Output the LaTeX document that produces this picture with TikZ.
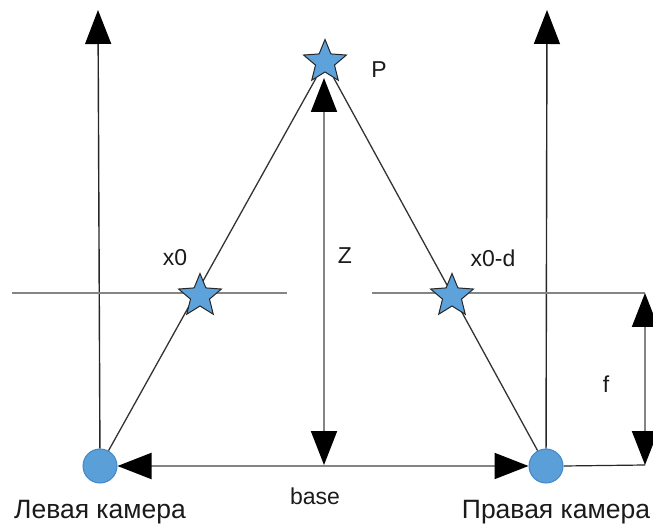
\documentclass[tikz,border=0pt]{standalone}
\usepackage{fontspec}
\setmainfont{Liberation Sans}
\usetikzlibrary{shapes.geometric,arrows.meta,backgrounds}
\definecolor{starblue}{HTML}{5DA2DA}
\definecolor{camblue}{HTML}{5B9FD8}
\definecolor{camedge}{HTML}{4189C8}
\definecolor{planegray}{HTML}{858585}
\definecolor{txt}{HTML}{1A1A1A}
\tikzset{
  pt/.style={star, star points=5, star point ratio=2.25, minimum size=45pt, inner sep=0pt,
             fill=starblue, draw=black!85, line width=1pt},
  cam/.style={circle, minimum size=34pt, inner sep=0pt, fill=camblue, draw=camedge, line width=1pt},
  lbl/.style={font=\fontsize{23}{27}\selectfont, text=txt, inner sep=0pt},
  biglbl/.style={font=\fontsize{26.5}{30}\selectfont, text=txt, inner sep=0pt},
  axisline/.style={draw=black!85, line width=1.4pt},
  plane/.style={draw=planegray, line width=2.2pt},
  ray/.style={draw=black!80, line width=1.3pt},
  tipA/.tip={Triangle[length=34pt,width=26pt,black]},
  meas/.style={draw=planegray, line width=2pt, tipA-tipA},
  upar/.style={axisline, -tipA}
}
\begin{document}
\begin{tikzpicture}[x=1pt,y={(0pt,-1pt)}]
\useasboundingbox (0,0) rectangle (653,526);
% cameras and points
\node[cam] (lcam) at (100,466) {};
\node[cam] (rcam) at (546,466) {};
\node[pt] (P) at (325,62) {};
\node[pt] (xl) at (200,296) {};
\node[pt] (xr) at (452,296) {};
% coordinates
\coordinate (ltop) at (98,10);
\coordinate (rtop) at (547,10);
\coordinate (lp1) at (12,293);
\coordinate (lp2) at (287,293);
\coordinate (rp1) at (372,293);
\coordinate (rp2) at (645,293);
\coordinate (rb) at (645,465);
\coordinate (zt) at (324,78);
\coordinate (zb) at (324,465);
\begin{pgfonlayer}{background}
  \draw[upar] (lcam) -- (ltop);
  \draw[upar] (rcam) -- (rtop);
  \draw[plane] (lp1) -- (lp2);
  \draw[plane] (rp1) -- (rp2);
  \draw[ray] (lcam) -- (P);
  \draw[ray] (rcam) -- (P);
  \draw[axisline, line width=1.2pt] (rcam.east) -- (rb);
\end{pgfonlayer}
\draw[meas] (zt) -- (zb);
\draw[meas] (lcam.east) -- (rcam.west);
\draw[meas] (rp2) -- (rb);
% labels
\node[lbl] (lP) at (379,70) {P};
\node[lbl] (lx0) at (175,258) {x0};
\node[lbl] (lZ) at (345,256) {Z};
\node[lbl] (lxd) at (493,258) {x0-d};
\node[lbl] (lf) at (606,384) {f};
\node[lbl] (lbase) at (315,496) {base};
\node[biglbl] (llc) at (100,512) {Левая камера};
\node[biglbl] (lrc) at (556,512) {Правая камера};
\end{tikzpicture}
\end{document}
